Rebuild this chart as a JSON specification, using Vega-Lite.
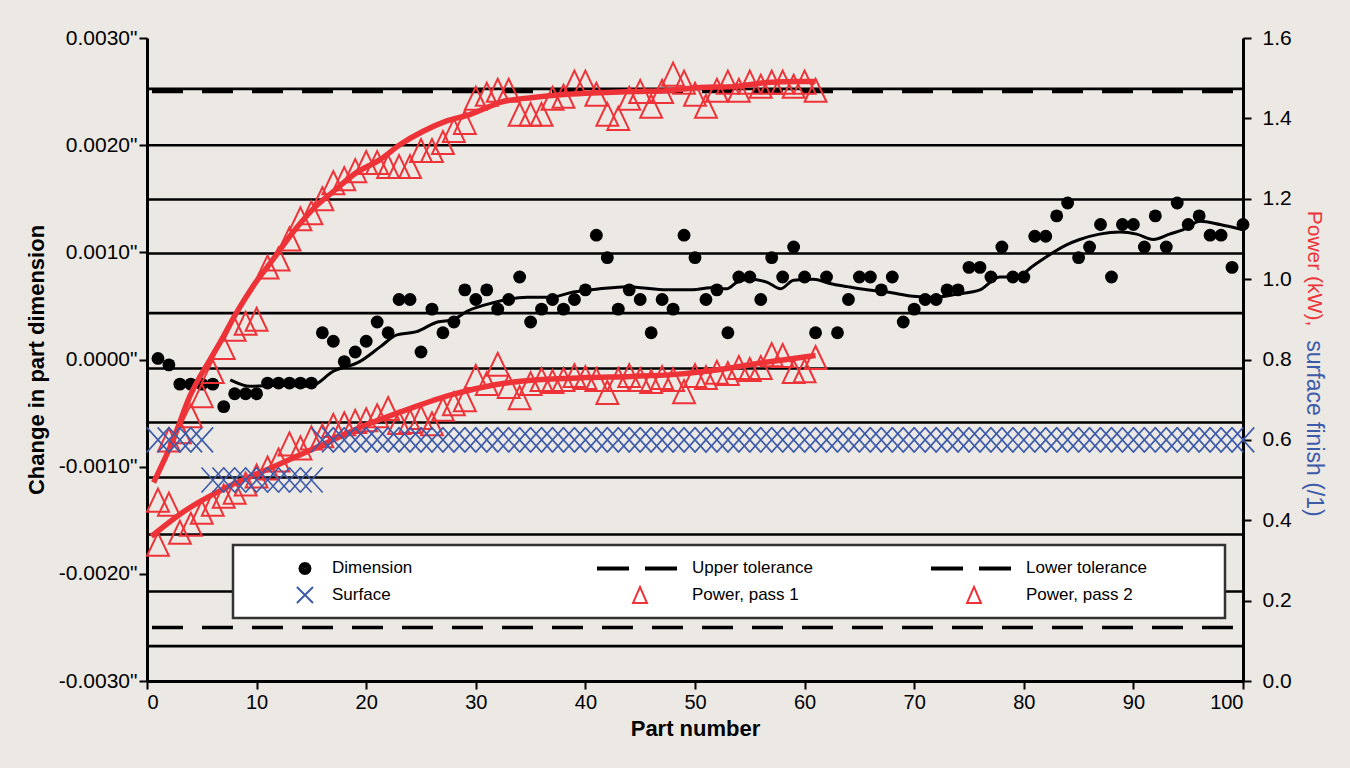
{
  "$schema": "https://vega.github.io/schema/vega-lite/v6.json",
  "width": 1096,
  "height": 643,
  "autosize": {"type": "none"},
  "padding": {"left": 147, "top": 38, "right": 107, "bottom": 87},
  "background": "#ECE8E4",
  "datasets": {
    "grid": [{"v": 0.002525}, {"v": 0.001999}, {"v": 0.001493}, {"v": 0.000989}, {"v": 0.000433}, {"v": -0.000084}, {"v": -0.000588}, {"v": -0.001101}, {"v": -0.001633}, {"v": -0.002165}, {"v": -0.002675}],
    "tol": [{"v": 0.0025}, {"v": -0.0025}],
    "dims": [
      {"n":1,"v":0.00001},{"n":2,"v":-0.00005},{"n":3,"v":-0.00023},{"n":4,"v":-0.00023},{"n":5,"v":-0.00023},{"n":6,"v":-0.00023},{"n":7,"v":-0.00044},{"n":8,"v":-0.00032},{"n":9,"v":-0.00032},{"n":10,"v":-0.00032},
      {"n":11,"v":-0.00022},{"n":12,"v":-0.00022},{"n":13,"v":-0.00022},{"n":14,"v":-0.00022},{"n":15,"v":-0.00022},{"n":16,"v":0.00025},{"n":17,"v":0.00017},{"n":18,"v":-0.00002},{"n":19,"v":0.00007},{"n":20,"v":0.00017},
      {"n":21,"v":0.00035},{"n":22,"v":0.00025},{"n":23,"v":0.00056},{"n":24,"v":0.00056},{"n":25,"v":0.00007},{"n":26,"v":0.00047},{"n":27,"v":0.00025},{"n":28,"v":0.00035},{"n":29,"v":0.00065},{"n":30,"v":0.00056},
      {"n":31,"v":0.00065},{"n":32,"v":0.00047},{"n":33,"v":0.00056},{"n":34,"v":0.00077},{"n":35,"v":0.00035},{"n":36,"v":0.00047},{"n":37,"v":0.00056},{"n":38,"v":0.00047},{"n":39,"v":0.00056},{"n":40,"v":0.00065},
      {"n":41,"v":0.00116},{"n":42,"v":0.00095},{"n":43,"v":0.00047},{"n":44,"v":0.00065},{"n":45,"v":0.00056},{"n":46,"v":0.00025},{"n":47,"v":0.00056},{"n":48,"v":0.00047},{"n":49,"v":0.00116},{"n":50,"v":0.00095},
      {"n":51,"v":0.00056},{"n":52,"v":0.00065},{"n":53,"v":0.00025},{"n":54,"v":0.00077},{"n":55,"v":0.00077},{"n":56,"v":0.00056},{"n":57,"v":0.00095},{"n":58,"v":0.00077},{"n":59,"v":0.00105},{"n":60,"v":0.00077},
      {"n":61,"v":0.00025},{"n":62,"v":0.00077},{"n":63,"v":0.00025},{"n":64,"v":0.00056},{"n":65,"v":0.00077},{"n":66,"v":0.00077},{"n":67,"v":0.00065},{"n":68,"v":0.00077},{"n":69,"v":0.00035},{"n":70,"v":0.00047},
      {"n":71,"v":0.00056},{"n":72,"v":0.00056},{"n":73,"v":0.00065},{"n":74,"v":0.00065},{"n":75,"v":0.00086},{"n":76,"v":0.00086},{"n":77,"v":0.00077},{"n":78,"v":0.00105},{"n":79,"v":0.00077},{"n":80,"v":0.00077},
      {"n":81,"v":0.00115},{"n":82,"v":0.00115},{"n":83,"v":0.00134},{"n":84,"v":0.00146},{"n":85,"v":0.00095},{"n":86,"v":0.00105},{"n":87,"v":0.00126},{"n":88,"v":0.00077},{"n":89,"v":0.00126},{"n":90,"v":0.00126},
      {"n":91,"v":0.00105},{"n":92,"v":0.00134},{"n":93,"v":0.00105},{"n":94,"v":0.00146},{"n":95,"v":0.00126},{"n":96,"v":0.00134},{"n":97,"v":0.00116},{"n":98,"v":0.00116},{"n":99,"v":0.00086},{"n":100,"v":0.00126}
    ],
    "trend": [
      {"n":7.6,"v":-0.00019},{"n":9.4,"v":-0.00025},{"n":12.1,"v":-0.00024},{"n":14.9,"v":-0.00025},{"n":17.0,"v":-0.00011},{"n":19.4,"v":-0.00002},{"n":21.3,"v":0.00012},{"n":22.8,"v":0.00023},{"n":24.6,"v":0.00026},{"n":26.5,"v":0.00035},
      {"n":27.9,"v":0.00037},{"n":29.2,"v":0.00045},{"n":31.6,"v":0.00053},{"n":34.7,"v":0.00058},{"n":36.8,"v":0.00058},{"n":38.9,"v":0.00063},{"n":41.3,"v":0.00066},{"n":43.8,"v":0.00068},{"n":45.0,"v":0.00067},{"n":47.4,"v":0.00065},
      {"n":49.8,"v":0.00065},{"n":51.4,"v":0.00067},{"n":52.9,"v":0.00066},{"n":53.8,"v":0.00072},{"n":55.0,"v":0.00075},{"n":56.6,"v":0.00072},{"n":57.8,"v":0.00066},{"n":59.0,"v":0.00074},{"n":60.8,"v":0.00075},{"n":62.3,"v":0.00071},
      {"n":63.9,"v":0.00068},{"n":65.7,"v":0.00065},{"n":67.5,"v":0.00063},{"n":69.9,"v":0.00059},{"n":71.7,"v":0.00058},{"n":73.9,"v":0.00061},{"n":76.0,"v":0.00065},{"n":77.8,"v":0.00077},{"n":79.4,"v":0.00077},{"n":80.8,"v":0.00087},
      {"n":82.7,"v":0.00100},{"n":83.9,"v":0.00107},{"n":85.1,"v":0.00112},{"n":86.9,"v":0.00117},{"n":88.8,"v":0.00119},{"n":90.3,"v":0.00117},{"n":91.8,"v":0.00112},{"n":93.3,"v":0.00117},{"n":94.5,"v":0.00121},{"n":96.1,"v":0.00129},
      {"n":97.9,"v":0.00126},{"n":100,"v":0.00121}
    ],
    "surface": [
      {"n":1,"p":0.6},{"n":2,"p":0.6},{"n":3,"p":0.6},{"n":4,"p":0.6},{"n":5,"p":0.6},{"n":6,"p":0.5},{"n":7,"p":0.5},{"n":8,"p":0.5},{"n":9,"p":0.5},{"n":10,"p":0.5},
      {"n":11,"p":0.5},{"n":12,"p":0.5},{"n":13,"p":0.5},{"n":14,"p":0.5},{"n":15,"p":0.5},{"n":16,"p":0.6},{"n":17,"p":0.6},{"n":18,"p":0.6},{"n":19,"p":0.6},{"n":20,"p":0.6},
      {"n":21,"p":0.6},{"n":22,"p":0.6},{"n":23,"p":0.6},{"n":24,"p":0.6},{"n":25,"p":0.6},{"n":26,"p":0.6},{"n":27,"p":0.6},{"n":28,"p":0.6},{"n":29,"p":0.6},{"n":30,"p":0.6},
      {"n":31,"p":0.6},{"n":32,"p":0.6},{"n":33,"p":0.6},{"n":34,"p":0.6},{"n":35,"p":0.6},{"n":36,"p":0.6},{"n":37,"p":0.6},{"n":38,"p":0.6},{"n":39,"p":0.6},{"n":40,"p":0.6},
      {"n":41,"p":0.6},{"n":42,"p":0.6},{"n":43,"p":0.6},{"n":44,"p":0.6},{"n":45,"p":0.6},{"n":46,"p":0.6},{"n":47,"p":0.6},{"n":48,"p":0.6},{"n":49,"p":0.6},{"n":50,"p":0.6},
      {"n":51,"p":0.6},{"n":52,"p":0.6},{"n":53,"p":0.6},{"n":54,"p":0.6},{"n":55,"p":0.6},{"n":56,"p":0.6},{"n":57,"p":0.6},{"n":58,"p":0.6},{"n":59,"p":0.6},{"n":60,"p":0.6},
      {"n":61,"p":0.6},{"n":62,"p":0.6},{"n":63,"p":0.6},{"n":64,"p":0.6},{"n":65,"p":0.6},{"n":66,"p":0.6},{"n":67,"p":0.6},{"n":68,"p":0.6},{"n":69,"p":0.6},{"n":70,"p":0.6},
      {"n":71,"p":0.6},{"n":72,"p":0.6},{"n":73,"p":0.6},{"n":74,"p":0.6},{"n":75,"p":0.6},{"n":76,"p":0.6},{"n":77,"p":0.6},{"n":78,"p":0.6},{"n":79,"p":0.6},{"n":80,"p":0.6},
      {"n":81,"p":0.6},{"n":82,"p":0.6},{"n":83,"p":0.6},{"n":84,"p":0.6},{"n":85,"p":0.6},{"n":86,"p":0.6},{"n":87,"p":0.6},{"n":88,"p":0.6},{"n":89,"p":0.6},{"n":90,"p":0.6},
      {"n":91,"p":0.6},{"n":92,"p":0.6},{"n":93,"p":0.6},{"n":94,"p":0.6},{"n":95,"p":0.6},{"n":96,"p":0.6},{"n":97,"p":0.6},{"n":98,"p":0.6},{"n":99,"p":0.6},{"n":100,"p":0.6}
    ],
    "pass1": [
      {"n":1,"p":0.45},{"n":2,"p":0.60},{"n":3,"p":0.62},{"n":4,"p":0.66},{"n":5,"p":0.71},{"n":6,"p":0.77},{"n":7,"p":0.83},{"n":8,"p":0.875},{"n":9,"p":0.89},{"n":10,"p":0.90},
      {"n":11,"p":1.03},{"n":12,"p":1.05},{"n":13,"p":1.10},{"n":14,"p":1.15},{"n":15,"p":1.165},{"n":16,"p":1.20},{"n":17,"p":1.24},{"n":18,"p":1.25},{"n":19,"p":1.27},{"n":20,"p":1.29},
      {"n":21,"p":1.29},{"n":22,"p":1.28},{"n":23,"p":1.28},{"n":24,"p":1.28},{"n":25,"p":1.32},{"n":26,"p":1.32},{"n":27,"p":1.34},{"n":28,"p":1.37},{"n":29,"p":1.39},{"n":30,"p":1.45},
      {"n":31,"p":1.46},{"n":32,"p":1.47},{"n":33,"p":1.47},{"n":34,"p":1.41},{"n":35,"p":1.41},{"n":36,"p":1.41},{"n":37,"p":1.45},{"n":38,"p":1.455},{"n":39,"p":1.49},{"n":40,"p":1.49},
      {"n":41,"p":1.46},{"n":42,"p":1.41},{"n":43,"p":1.40},{"n":44,"p":1.45},{"n":45,"p":1.467},{"n":46,"p":1.43},{"n":47,"p":1.467},{"n":48,"p":1.51},{"n":49,"p":1.49},{"n":50,"p":1.46},
      {"n":51,"p":1.43},{"n":52,"p":1.47},{"n":53,"p":1.49},{"n":54,"p":1.47},{"n":55,"p":1.49},{"n":56,"p":1.48},{"n":57,"p":1.49},{"n":58,"p":1.49},{"n":59,"p":1.48},{"n":60,"p":1.49},{"n":61,"p":1.47}
    ],
    "pass2": [
      {"n":1,"p":0.34},{"n":2,"p":0.44},{"n":3,"p":0.37},{"n":4,"p":0.39},{"n":5,"p":0.42},{"n":6,"p":0.44},{"n":7,"p":0.46},{"n":8,"p":0.47},{"n":9,"p":0.49},{"n":10,"p":0.51},
      {"n":11,"p":0.53},{"n":12,"p":0.55},{"n":13,"p":0.59},{"n":14,"p":0.58},{"n":15,"p":0.605},{"n":16,"p":0.61},{"n":17,"p":0.636},{"n":18,"p":0.64},{"n":19,"p":0.646},{"n":20,"p":0.65},
      {"n":21,"p":0.66},{"n":22,"p":0.678},{"n":23,"p":0.643},{"n":24,"p":0.646},{"n":25,"p":0.656},{"n":26,"p":0.64},{"n":27,"p":0.676},{"n":28,"p":0.69},{"n":29,"p":0.70},{"n":30,"p":0.758},
      {"n":31,"p":0.74},{"n":32,"p":0.788},{"n":33,"p":0.733},{"n":34,"p":0.705},{"n":35,"p":0.74},{"n":36,"p":0.75},{"n":37,"p":0.745},{"n":38,"p":0.75},{"n":39,"p":0.76},{"n":40,"p":0.755},
      {"n":41,"p":0.75},{"n":42,"p":0.718},{"n":43,"p":0.75},{"n":44,"p":0.76},{"n":45,"p":0.75},{"n":46,"p":0.745},{"n":47,"p":0.755},{"n":48,"p":0.75},{"n":49,"p":0.72},{"n":50,"p":0.76},
      {"n":51,"p":0.755},{"n":52,"p":0.768},{"n":53,"p":0.765},{"n":54,"p":0.78},{"n":55,"p":0.775},{"n":56,"p":0.78},{"n":57,"p":0.812},{"n":58,"p":0.81},{"n":59,"p":0.77},{"n":60,"p":0.772},{"n":61,"p":0.805}
    ],
    "fit1": [
      {"n":0.6,"p":0.494},{"n":2.4,"p":0.601},{"n":3.9,"p":0.708},{"n":5.75,"p":0.80},{"n":6.66,"p":0.842},{"n":8.18,"p":0.917},{"n":9.67,"p":0.982},{"n":11.5,"p":1.049},{"n":13.3,"p":1.116},{"n":15.1,"p":1.173},
      {"n":17.0,"p":1.218},{"n":19.1,"p":1.265},{"n":21.3,"p":1.298},{"n":23.1,"p":1.335},{"n":25.2,"p":1.368},{"n":27.3,"p":1.393},{"n":29.5,"p":1.41},{"n":31.3,"p":1.43},{"n":32.2,"p":1.44},{"n":35.2,"p":1.452},
      {"n":38.3,"p":1.46},{"n":41.3,"p":1.464},{"n":44.3,"p":1.467},{"n":47.4,"p":1.469},{"n":50.5,"p":1.477},{"n":53.5,"p":1.479},{"n":56.5,"p":1.489},{"n":59.6,"p":1.492},{"n":61,"p":1.492}
    ],
    "fit2": [
      {"n":0.4,"p":0.36},{"n":3.4,"p":0.4225},{"n":7.5,"p":0.485},{"n":11.6,"p":0.534},{"n":15.7,"p":0.584},{"n":19.7,"p":0.634},{"n":23.8,"p":0.676},{"n":27.9,"p":0.713},{"n":31.9,"p":0.738},{"n":36.0,"p":0.75},
      {"n":40.1,"p":0.755},{"n":44.2,"p":0.758},{"n":48.2,"p":0.763},{"n":52.3,"p":0.775},{"n":56.4,"p":0.793},{"n":60.5,"p":0.808},{"n":61,"p":0.81}
    ]
  },
  "layer": [
    {
      "layer": [
        {
          "data": {"name": "grid"},
          "mark": {"type": "rule", "color": "black", "strokeWidth": 2.6},
          "encoding": {
            "y": {"field": "v", "type": "quantitative", "scale": {"domain": [-0.003, 0.003], "nice": false, "zero": false},
              "axis": {"orient": "left", "values": [-0.003, -0.002, -0.001, 0, 0.001, 0.002, 0.003],
                "labelExpr": "(datum.value < -0.0000001 ? '-' : '') + format(abs(datum.value), '.4f') + '\"'",
                "title": "Change in part dimension", "titleFont": "Liberation Sans, Arial, sans-serif",
                "titleFontSize": 22, "titleFontWeight": "bold", "titlePadding": 10,
                "labelFont": "Liberation Sans, Arial, sans-serif", "labelFontSize": 21, "labelPadding": 2,
                "tickSize": 8, "tickWidth": 2, "domainWidth": 3}}
          }
        },
        {
          "data": {"name": "tol"},
          "mark": {"type": "rule", "color": "black", "strokeWidth": 3.5, "strokeDash": [31, 19], "strokeDashOffset": 40},
          "encoding": {"y": {"field": "v", "type": "quantitative"}}
        },
        {
          "data": {"name": "trend"},
          "mark": {"type": "line", "color": "black", "strokeWidth": 3, "interpolate": "monotone"},
          "encoding": {
            "x": {"field": "n", "type": "quantitative", "scale": {"domain": [0, 100], "nice": false}, "axis": {"title": "Part number", "values": [0,10,20,30,40,50,60,70,80,90,100]}},
            "y": {"field": "v", "type": "quantitative"}
          }
        },
        {
          "data": {"name": "dims"},
          "mark": {"type": "point", "shape": "circle", "color": "black", "filled": true, "size": 165, "opacity": 1},
          "encoding": {
            "x": {"field": "n", "type": "quantitative", "axis": {"title": "Part number", "values": [0,10,20,30,40,50,60,70,80,90,100]}},
            "y": {"field": "v", "type": "quantitative"}
          }
        },
        {
          "data": {"name": "dims"},
          "mark": {"type": "point", "filled": false, "opacity": 0, "size": 1},
          "encoding": {
            "x": {"field": "n", "type": "quantitative"},
            "y": {"field": "v", "type": "quantitative"},
            "color": {"datum": "Dimension", "type": "nominal",
              "scale": {"domain": ["Dimension", "Upper tolerance", "Lower tolerance", "Surface", "Power, pass 1", "Power, pass 2"],
                "range": ["black", "black", "black", "#3D5BA9", "#EE3338", "#EE3338"]},
              "legend": {
                "title": null, "orient": "none", "legendX": 86, "legendY": 507, "columns": 3, "direction": "horizontal", "gridAlign": "each",
                "padding": 10, "columnPadding": 78, "rowPadding": 1, "symbolSize": 576, "symbolStrokeWidth": 2, "symbolOpacity": 1, "labelOffset": 63,
                "fillColor": "white", "strokeColor": "#333333",
                "labelFont": "Liberation Sans, Arial, sans-serif", "labelFontSize": 17, "labelColor": "black", "labelLimit": 300}},
            "shape": {"datum": "Dimension", "type": "nominal",
              "scale": {"domain": ["Dimension", "Upper tolerance", "Lower tolerance", "Surface", "Power, pass 1", "Power, pass 2"],
                "range": [
                  "M0,-0.67M0,0.67M21,0M4.538,0L4.477,0.229L4.309,0.397L4.08,0.458L3.851,0.397L3.683,0.229L3.622,0L3.683,-0.229L3.851,-0.397L4.08,-0.458L4.309,-0.397L4.477,-0.229ZM4.372,0L4.333,0.146L4.226,0.253L4.08,0.292L3.934,0.253L3.827,0.146L3.788,0L3.827,-0.146L3.934,-0.253L4.08,-0.292L4.226,-0.253L4.333,-0.146ZM4.205,0L4.143,0.108L4.018,0.108L3.955,0L4.018,-0.108L4.143,-0.108Z",
                  "M-1.8,-0.67M-1.8,0.67M18.8,0M-1.5,-0.09H1.0V0.09H-1.5ZM-1.5,0H1.0M2.5,-0.09H5.0V0.09H2.5ZM2.5,0H5.0",
                  "M-1.8,-0.67M-1.8,0.67M21.7,0M-1.5,-0.09H1.0V0.09H-1.5ZM-1.5,0H1.0M2.5,-0.09H5.0V0.09H2.5ZM2.5,0H5.0",
                  "M0,-0.67M0,0.67M21,0M3.41,-0.67L4.75,0.67M3.41,0.67L4.75,-0.67",
                  "M-1.8,-0.67M-1.8,0.67M18.8,0M2,-0.67L2.58,0.67L1.42,0.67Z",
                  "M-1.8,-0.67M-1.8,0.67M21.7,0M2,-0.67L2.58,0.67L1.42,0.67Z"
                ]},
              "legend": {
                "title": null, "orient": "none", "legendX": 86, "legendY": 507, "columns": 3, "direction": "horizontal", "gridAlign": "each",
                "padding": 10, "columnPadding": 78, "rowPadding": 1, "symbolSize": 576, "symbolStrokeWidth": 2, "symbolOpacity": 1, "labelOffset": 63,
                "fillColor": "white", "strokeColor": "#333333",
                "labelFont": "Liberation Sans, Arial, sans-serif", "labelFontSize": 17, "labelColor": "black", "labelLimit": 300}}
          }
        }
      ]
    },
    {
      "layer": [
        {
          "data": {"name": "pass1"},
          "mark": {"type": "point", "shape": "M0,-1L0.95,1L-0.95,1Z", "color": "#EE3338", "filled": false, "size": 530, "strokeWidth": 2, "opacity": 1},
          "encoding": {
            "x": {"field": "n", "type": "quantitative", "axis": {"title": "Part number", "values": [0,10,20,30,40,50,60,70,80,90,100]}},
            "y": {"field": "p", "type": "quantitative", "scale": {"domain": [0, 1.6], "nice": false, "zero": true},
              "axis": {"orient": "right", "values": [0, 0.2, 0.4, 0.6, 0.8, 1.0, 1.2, 1.4, 1.6], "format": ".1f",
                "title": "Power (kW),", "titleColor": "#EE3338", "titleFont": "Liberation Sans, Arial, sans-serif",
                "titleFontSize": 21, "titleFontWeight": "normal", "titleAngle": 90, "titleX": 70, "titleY": 230, "titleAlign": "center", "titleBaseline": "middle",
                "labelFont": "Liberation Sans, Arial, sans-serif", "labelFontSize": 21, "labelPadding": 11,
                "tickSize": 8, "tickWidth": 2, "domainWidth": 3}}
          }
        },
        {
          "data": {"name": "pass2"},
          "mark": {"type": "point", "shape": "M0,-1L0.95,1L-0.95,1Z", "color": "#EE3338", "filled": false, "size": 530, "strokeWidth": 2, "opacity": 1},
          "encoding": {
            "x": {"field": "n", "type": "quantitative"},
            "y": {"field": "p", "type": "quantitative"}
          }
        },
        {
          "data": {"name": "fit1"},
          "mark": {"type": "line", "color": "#EE3338", "strokeWidth": 5.5, "interpolate": "monotone"},
          "encoding": {"x": {"field": "n", "type": "quantitative"}, "y": {"field": "p", "type": "quantitative"}}
        },
        {
          "data": {"name": "fit2"},
          "mark": {"type": "line", "color": "#EE3338", "strokeWidth": 5.5, "interpolate": "monotone"},
          "encoding": {"x": {"field": "n", "type": "quantitative"}, "y": {"field": "p", "type": "quantitative"}}
        }
      ]
    },
    {
      "data": {"name": "surface"},
      "mark": {"type": "point", "shape": "M-0.9,-1L0.9,1M-0.9,1L0.9,-1", "color": "#3D5BA9", "filled": false, "size": 625, "strokeWidth": 1.6, "opacity": 1},
      "encoding": {
        "x": {"field": "n", "type": "quantitative"},
        "y": {"field": "p", "type": "quantitative", "scale": {"domain": [0, 1.6], "nice": false},
          "axis": {"orient": "right", "labels": false, "ticks": false, "domain": false,
            "title": "surface finish (/1)", "titleColor": "#3D5BA9", "titleFont": "Liberation Sans, Arial, sans-serif",
            "titleFontSize": 23, "titleFontWeight": "normal", "titleAngle": 90, "titleX": 70, "titleY": 390, "titleAlign": "center", "titleBaseline": "middle"}}
      }
    }
  ],
  "resolve": {"scale": {"y": "independent"}},
  "config": {
    "view": {"stroke": null},
    "legend": {"strokeWidth": 2.5},
    "axis": {"grid": false, "domainColor": "black", "tickColor": "black", "labelColor": "black", "titleColor": "black"},
    "axisX": {"domainWidth": 3, "tickWidth": 2, "tickSize": 8, "labelFont": "Liberation Sans, Arial, sans-serif", "labelFontSize": 20, "labelPadding": 3,
      "titleFont": "Liberation Sans, Arial, sans-serif", "titleFontSize": 22, "titleFontWeight": "bold", "titlePadding": 6}
  }
}
